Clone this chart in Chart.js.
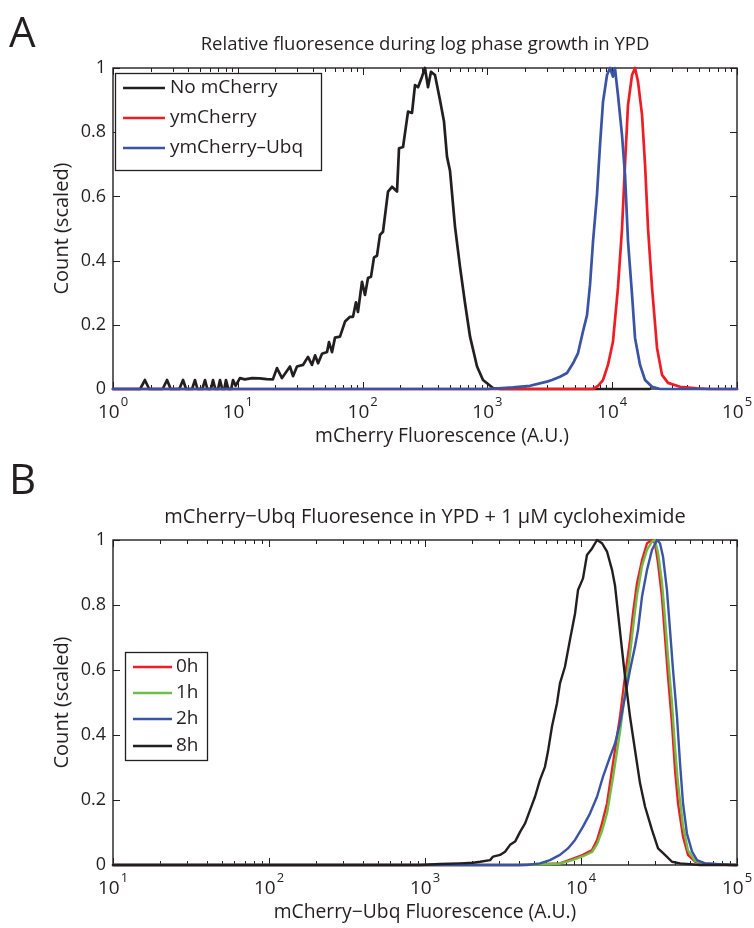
<!DOCTYPE html>
<html><head><meta charset="utf-8">
<script src="https://cdn.jsdelivr.net/npm/chart.js@4/dist/chart.umd.min.js"></script>
<style>
html,body{margin:0;padding:0;background:#fff;width:754px;height:928px;overflow:hidden}
.panel{position:absolute;left:0;width:754px;height:464px}
#pa{top:0}#pb{top:464px}
</style></head><body>
<div class="panel" id="pa"><canvas id="ca" width="754" height="464"></canvas></div>
<div class="panel" id="pb"><canvas id="cb" width="754" height="464"></canvas></div>
<script>
// ---------- Panel A data ----------
const aNoMCherryX = [1,1.65,1.8,1.95,2.5,2.71,2.9,3.4,3.64,3.85,4.3,4.54,4.75,5.2,5.46,5.7,6.1,6.33,6.6,6.95,7.2,7.5,7.8,8.04,8.4,8.85,9.16,9.6,10.4,11.4,13,15,17,19.1,20.6,22.6,26.2,27.7,29.8,33.3,36.5,39.3,41.6,44,47.3,51.9,53.8,56.9,60.1,65.9,72.3,79.3,83.8,88.5,91.8,98.9,104.5,110.5,116.8,123.4,130.4,137.8,145.7,159.8,172.1,188.7,195.8,210.9,231.2,248.9,263,278,299.3,316.2,334.2,353.2,380.2,416.9,449,474.5,501.5,550,603,662,726,826,922,1109,1262,20000];
const aNoMCherryY = [0,0,0.028,0,0,0.028,0,0,0.028,0,0,0.028,0,0,0.028,0,0,0.028,0,0,0.028,0,0,0.028,0,0,0.028,0.01,0.034,0.03,0.034,0.033,0.031,0.03,0.065,0.034,0.07,0.04,0.07,0.075,0.1,0.075,0.105,0.08,0.11,0.115,0.146,0.115,0.16,0.163,0.21,0.225,0.225,0.27,0.24,0.334,0.293,0.346,0.35,0.41,0.415,0.48,0.49,0.615,0.63,0.615,0.75,0.754,0.864,0.86,0.947,0.94,0.973,1.0,0.94,0.988,0.978,0.9,0.833,0.724,0.68,0.506,0.381,0.267,0.163,0.07,0.028,0.003,0,0];
const aYmCherryX = [1,7000,7700,8440,9250,10140,11120,11990,12670,13390,14420,15240,16110,17340,18330,19370,20860,22870,25070,28000,34930,47760,60800,100000];
const aYmCherryY = [0,0,0.01,0.028,0.075,0.147,0.315,0.5,0.7,0.885,0.978,1.0,0.957,0.854,0.7,0.5,0.315,0.128,0.044,0.019,0.007,0.002,0,0];
const aUbqX = [1,1000,1604,2195,3004,3294,3818,4346,4855,5324,5838,6285,6643,7022,7553,7986,8443,9087,9607,10140,10520,11120,11990,12670,13390,14420,15240,16710,18330,20860,24160,100000];
const aUbqY = [0,0,0.005,0.01,0.023,0.028,0.038,0.05,0.08,0.112,0.18,0.23,0.325,0.46,0.605,0.76,0.895,0.978,1.0,0.973,1.0,0.916,0.79,0.667,0.46,0.293,0.159,0.075,0.028,0.007,0,0];
const aLabels = ['No mCherry','ymCherry','ymCherry\u2013Ubq'];
const aXPowers = [0,1,2,3,4,5];

// ---------- Panel B data ----------
const b0hX = [10,4000,7330,8895,10300,11770,12670,13640,14690,16040,17780,19150,20620,21540,22860,24610,26500,28510,29800,31190,33020,34540,36120,38280,40070,41880,45080,48510,53830,60560,90200,100000];
const b0hY = [0,0,0.005,0.02,0.031,0.046,0.077,0.128,0.19,0.313,0.456,0.58,0.692,0.775,0.867,0.938,0.99,1.0,0.99,0.928,0.826,0.702,0.58,0.436,0.292,0.19,0.087,0.031,0.01,0.005,0,0];
const b1hX = [10,4000,7330,8895,10300,11770,12670,13640,14690,16040,17780,19150,20620,21540,22860,24610,26500,28510,29800,31190,33020,34540,36120,38280,40070,41880,45080,48510,53830,60560,90200,100000];
const b1hY = [0,0,0.004,0.016,0.027,0.04,0.064,0.105,0.16,0.27,0.41,0.53,0.65,0.73,0.83,0.92,0.97,0.995,1.0,0.96,0.87,0.76,0.64,0.5,0.36,0.25,0.12,0.045,0.013,0.005,0,0];
const b2hX = [10,4508,5458,6325,7330,8250,9160,10300,11430,12670,13840,15350,16520,17780,19150,20620,22190,23190,24610,26500,28510,30710,32080,33560,35560,37210,38900,41250,43130,45080,47760,51500,55450,62380,97000,100000];
const b2hY = [0,0,0.005,0.015,0.031,0.051,0.077,0.118,0.159,0.21,0.272,0.333,0.374,0.436,0.518,0.6,0.672,0.723,0.826,0.908,0.969,1.0,0.99,0.949,0.846,0.723,0.6,0.456,0.313,0.19,0.097,0.041,0.015,0.005,0,0];
const b8hX = [10,929,1247,1675,2032,2254,2614,2731,3027,3260,3511,3780,4070,4381,4712,5072,5458,5875,6140,6516,7016,7330,7890,8490,9160,9570,10300,10920,11770,12670,13640,14690,15810,16520,17270,18330,19150,20620,22190,23890,25720,28510,31190,34540,38280,43130,57980,100000];
const b8hY = [0,0,0.003,0.005,0.007,0.01,0.015,0.026,0.031,0.041,0.062,0.072,0.102,0.128,0.169,0.21,0.262,0.302,0.349,0.426,0.498,0.559,0.61,0.692,0.774,0.846,0.882,0.954,0.974,1.0,0.99,0.964,0.908,0.86,0.775,0.662,0.58,0.456,0.354,0.252,0.18,0.108,0.051,0.031,0.01,0.005,0,0];
const bLabels = ['0h','1h','2h','8h'];
const bXPowers = [1,2,3,4,5];

const yTickValues = [0,0.2,0.4,0.6,0.8,1];
const yTickLabels = ['0','0.2','0.4','0.6','0.8','1'];

// ---------- styling ----------
const INK = '#231F20';
const RED = '#EE1D25', GREEN = '#6DBE45', BLUE = '#3A53A4';
const FONT = '"Open Sans", "Noto Sans", sans-serif';

const pts = (xs, ys) => xs.map((v, i) => ({x: v, y: ys[i]}));

function framePlugin(cfg) {
  return {
    id: 'frame' + cfg.letter,
    beforeDatasetsDraw(chart) {
      const {ctx, chartArea: a, scales: {x, y}} = chart;
      ctx.save();
      ctx.strokeStyle = INK;
      ctx.lineWidth = 1;
      const pw = cfg.powers;
      for (let k = 0; k < pw.length; k++) {
        const p = pw[k];
        const mults = k < pw.length - 1 ? [1,2,3,4,5,6,7,8,9] : [1];
        for (const m of mults) {
          const px = Math.round(x.getPixelForValue(m * Math.pow(10, p))) + 0.5;
          const len = m === 1 ? 7 : 4;
          ctx.beginPath();
          ctx.moveTo(px, a.bottom); ctx.lineTo(px, a.bottom - len);
          ctx.moveTo(px, a.top); ctx.lineTo(px, a.top + len);
          ctx.stroke();
        }
      }
      for (const v of yTickValues) {
        const py = Math.round(y.getPixelForValue(v)) + 0.5;
        ctx.beginPath();
        ctx.moveTo(a.left, py); ctx.lineTo(a.left + 7, py);
        ctx.moveTo(a.right, py); ctx.lineTo(a.right - 7, py);
        ctx.stroke();
      }
      ctx.lineWidth = 1.4;
      ctx.strokeRect(a.left, a.top, a.right - a.left, a.bottom - a.top);
      ctx.restore();
    },
    afterDraw(chart) {
      const {ctx, chartArea: a, scales: {x, y}} = chart;
      ctx.save();
      ctx.fillStyle = INK;
      for (const p of cfg.powers) {
        const px = x.getPixelForValue(Math.pow(10, p));
        ctx.font = '19px ' + FONT;
        const w1 = ctx.measureText('10').width;
        ctx.font = '13px ' + FONT;
        const w2 = ctx.measureText(String(p)).width;
        const start = px - (w1 + w2 + 1) / 2;
        ctx.textAlign = 'left'; ctx.textBaseline = 'alphabetic';
        ctx.font = '19px ' + FONT;
        ctx.fillText('10', start, a.bottom + 29);
        ctx.font = '13px ' + FONT;
        ctx.fillText(String(p), start + w1 + 1, a.bottom + 17);
      }
      ctx.font = '19.3px ' + FONT;
      ctx.textAlign = 'center'; ctx.textBaseline = 'middle';
      ctx.fillText(cfg.xTitle, (a.left + a.right) / 2 + cfg.xTitleShift, a.bottom + 48);
      ctx.font = cfg.titleSize + 'px ' + FONT;
      ctx.fillText(cfg.title, (a.left + a.right) / 2, a.top - 23);
      ctx.save();
      ctx.translate(62, (a.top + a.bottom) / 2);
      ctx.rotate(-Math.PI / 2);
      ctx.font = '20px ' + FONT;
      ctx.fillText('Count (scaled)', 0, 0);
      ctx.restore();
      ctx.font = '42px ' + FONT;
      ctx.textAlign = 'left'; ctx.textBaseline = 'alphabetic';
      ctx.fillText(cfg.letter, 9, cfg.letterY);
      const L = cfg.legend;
      ctx.fillStyle = '#fff';
      ctx.fillRect(L.x, L.y, L.w, L.h);
      ctx.strokeStyle = INK; ctx.lineWidth = 1.3;
      ctx.strokeRect(L.x + 0.5, L.y + 0.5, L.w, L.h);
      ctx.font = L.font + 'px ' + FONT;
      ctx.textBaseline = 'middle';
      L.items.forEach((it, i) => {
        const ry = L.rows[i];
        ctx.strokeStyle = it.color; ctx.lineWidth = 2.5;
        ctx.beginPath(); ctx.moveTo(L.lx1, ry); ctx.lineTo(L.lx2, ry); ctx.stroke();
        ctx.fillStyle = INK;
        ctx.fillText(it.label, L.tx, ry);
      });
      ctx.restore();
    }
  };
}

function yScale() {
  return {
    type: 'linear', min: 0, max: 1, position: 'left',
    grid: {display: false, drawTicks: false},
    border: {display: false},
    ticks: {color: INK, font: {size: 18, family: FONT}, padding: 7,
      callback: v => yTickLabels[yTickValues.indexOf(v)]},
    afterBuildTicks: s => { s.ticks = yTickValues.map(v => ({value: v})); },
    afterFit: s => { s.width = 113; }
  };
}

function ds(label, xs, ys, color, order, w) {
  return {label, data: pts(xs, ys), borderColor: color, backgroundColor: color,
    borderWidth: w, pointRadius: 0, tension: 0, fill: false, order, clip: false,
    borderJoinStyle: 'round', borderCapStyle: 'round'};
}

new Chart(document.getElementById('ca'), {
  type: 'line',
  data: {datasets: [
    ds(aLabels[0], aNoMCherryX, aNoMCherryY, INK, 3, 2.7),
    ds(aLabels[1], aYmCherryX, aYmCherryY, RED, 2, 2.7),
    ds(aLabels[2], aUbqX, aUbqY, BLUE, 1, 2.7)
  ]},
  options: {
    responsive: false, animation: false, devicePixelRatio: 1,
    layout: {padding: {left: 0, right: 17, top: 68, bottom: 75}},
    plugins: {legend: {display: false}, tooltip: {enabled: false}},
    scales: {
      x: {type: 'logarithmic', min: 1, max: 100000, display: false},
      y: yScale()
    }
  },
  plugins: [framePlugin({
    letter: 'A', letterY: 47, powers: aXPowers, titleSize: 18.5, xTitleShift: 17,
    title: 'Relative fluoresence during log phase growth in YPD',
    xTitle: 'mCherry Fluorescence (A.U.)',
    legend: {x: 115, y: 73, w: 206, h: 97, lx1: 123, lx2: 165, tx: 170, font: 19,
      rows: [88, 118, 148],
      items: [{label: aLabels[0], color: INK}, {label: aLabels[1], color: RED}, {label: aLabels[2], color: BLUE}]}
  })]
});

new Chart(document.getElementById('cb'), {
  type: 'line',
  data: {datasets: [
    ds(bLabels[0], b0hX, b0hY, RED, 4, 2.4),
    ds(bLabels[1], b1hX, b1hY, GREEN, 3, 2.4),
    ds(bLabels[2], b2hX, b2hY, BLUE, 2, 2.4),
    ds(bLabels[3], b8hX, b8hY, INK, 1, 2.4)
  ]},
  options: {
    responsive: false, animation: false, devicePixelRatio: 1,
    layout: {padding: {left: 0, right: 17, top: 76, bottom: 63}},
    plugins: {legend: {display: false}, tooltip: {enabled: false}},
    scales: {
      x: {type: 'logarithmic', min: 10, max: 100000, display: false},
      y: yScale()
    }
  },
  plugins: [framePlugin({
    letter: 'B', letterY: 30, powers: bXPowers, titleSize: 20, xTitleShift: 0,
    title: 'mCherry\u2212Ubq Fluoresence in YPD + 1 \u03BCM cycloheximide',
    xTitle: 'mCherry\u2212Ubq Fluorescence (A.U.)',
    legend: {x: 125, y: 188, w: 82, h: 108, lx1: 133, lx2: 172, tx: 176, font: 19,
      rows: [203, 229, 255, 282],
      items: [{label: bLabels[0], color: RED}, {label: bLabels[1], color: GREEN}, {label: bLabels[2], color: BLUE}, {label: bLabels[3], color: INK}]}
  })]
});
</script>
</body></html>
